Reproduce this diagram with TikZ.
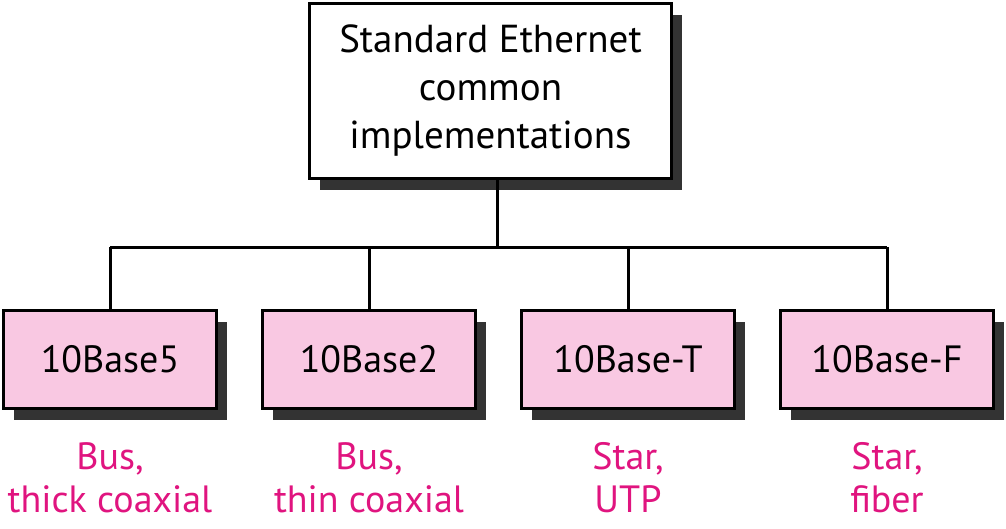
\documentclass[tikz,border=0pt]{standalone}
\usepackage{fontspec}
\setmainfont{PT Sans}
\usetikzlibrary{shadows}
\definecolor{boxpink}{HTML}{F9C8E2}
\definecolor{labmag}{HTML}{E0147F}
\definecolor{shade}{HTML}{333333}
\begin{document}
\begin{tikzpicture}[x=1pt,y=-1pt,
  sh/.style={drop shadow={shadow xshift=10pt,shadow yshift=-11pt,opacity=1,fill=shade}},
  topbox/.style={draw=black,line width=3pt,fill=white,sh,minimum width=362pt,minimum height=175pt,align=center,inner sep=0pt,font=\fontsize{39}{48}\selectfont},
  impl/.style={draw=black,line width=3pt,fill=boxpink,sh,minimum width=213pt,minimum height=98pt,inner sep=0pt,font=\fontsize{38}{40}\selectfont},
  lab/.style={text=labmag,align=center,inner sep=0pt,font=\fontsize{38}{43}\selectfont,anchor=north},
  conn/.style={line width=3pt}]
\useasboundingbox (0,0) rectangle (1006,528);
\node[topbox] (top) at (490.5,91) {Standard Ethernet\\common\\implementations};
\node[impl] (b1) at (110,359.5) {10Base5};
\node[impl] (b2) at (369,359.5) {10Base2};
\node[impl] (b3) at (628,359.5) {10Base-T};
\node[impl] (b4) at (887,359.5) {10Base-F};
\coordinate (bus) at (497,247);
\draw[conn] (top.south -| bus) -- (bus);
\draw[conn] (b1.north |- bus) -- (b4.north |- bus);
\foreach \b in {b1,b2,b3,b4} \draw[conn] (\b.north |- bus) -- (\b.north);
\node[lab] (l1) at (110,442) {Bus,\\thick coaxial};
\node[lab] (l2) at (369,442) {Bus,\\thin coaxial};
\node[lab] (l3) at (628,442) {Star,\\UTP};
\node[lab] (l4) at (887,442) {Star,\\fiber};
\end{tikzpicture}
\end{document}
